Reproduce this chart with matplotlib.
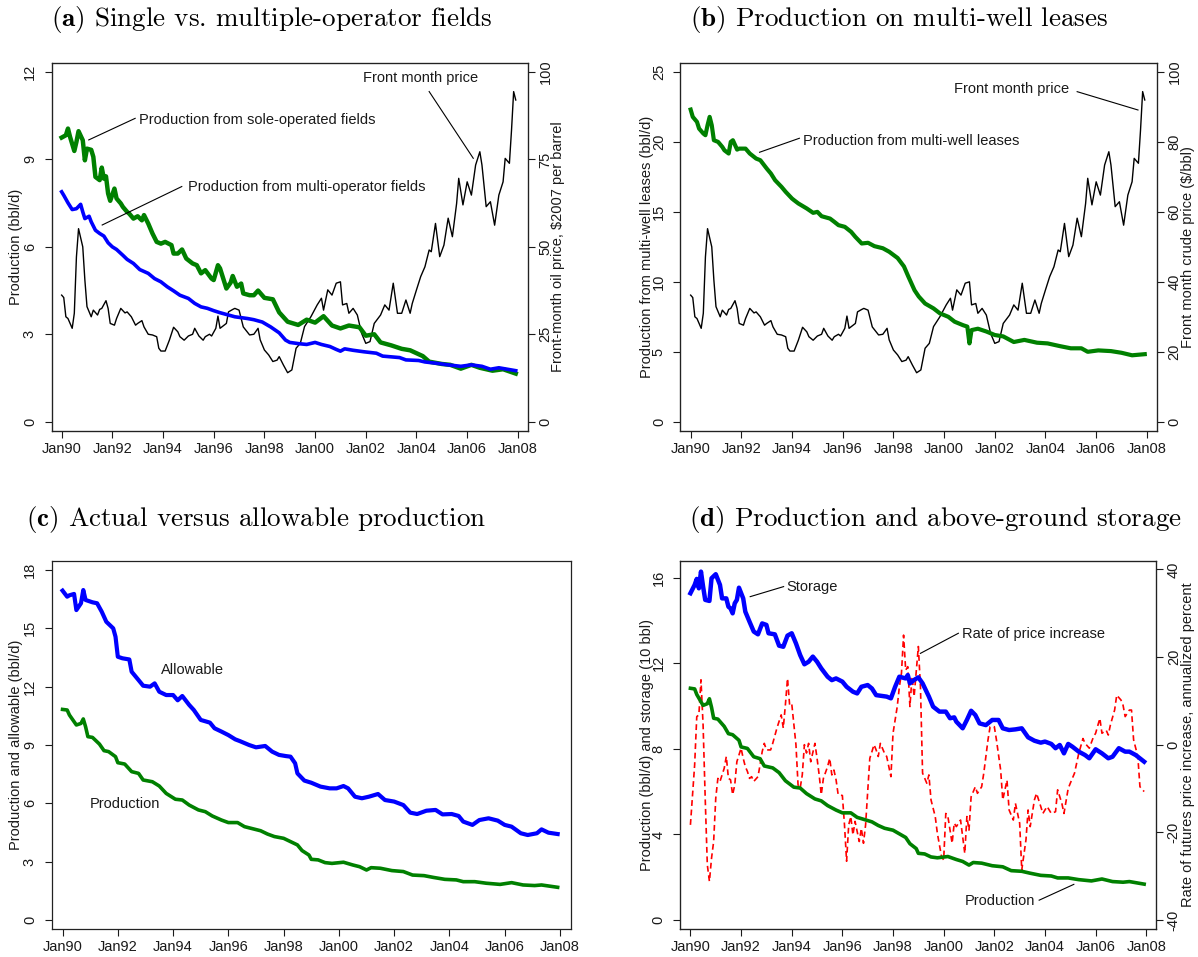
import matplotlib
matplotlib.use("Agg")
import matplotlib.pyplot as plt
import numpy as np

plt.rcParams['font.family'] = ['Liberation Sans', 'DejaVu Sans']
plt.rcParams['mathtext.fontset'] = 'cm'
plt.rcParams['axes.unicode_minus'] = False

# ---------------- data (months counted from Jan 1990) ----------------
price_m = [0, 1, 2, 3, 5, 6, 7, 8, 10, 11, 12, 14, 15, 17, 18, 19, 21, 22, 23, 25, 26, 28, 30, 31,
           33, 35, 36, 38, 39, 41, 43, 45, 46, 47, 49, 51, 53, 55, 56, 58, 60, 62, 63, 65, 67, 68,
           70, 71, 73, 74, 75, 78, 79, 81, 82, 84, 86, 89, 91, 93, 94, 96, 98, 100, 102, 103, 105,
           107, 109, 111, 113, 115, 118, 121, 123, 124, 126, 128, 130, 132, 133, 135, 136, 138, 140,
           142, 144, 146, 148, 151, 153, 155, 157, 159, 161, 163, 165, 166, 168, 170, 172, 174, 175,
           177, 179, 181, 183, 185, 187, 188, 190, 192, 194, 196, 198, 199, 201, 203, 205, 207, 209,
           210, 212, 213, 214, 215]
price_v = [36.2, 35.5, 30.0, 29.5, 26.7, 31.0, 47.1, 55.2, 50.0, 40.5, 32.9, 30.0, 31.9, 30.5, 32.1,
           32.4, 34.6, 32.4, 28.1, 27.6, 29.5, 32.4, 31.1, 31.4, 30.0, 27.6, 28.1, 28.9, 27.1, 25.0,
           24.8, 24.3, 21.0, 20.2, 20.2, 23.3, 27.0, 25.7, 24.3, 23.3, 24.5, 25.0, 26.7, 24.5, 23.3,
           24.3, 25.0, 24.5, 26.7, 30.2, 26.7, 28.1, 31.4, 32.1, 32.4, 31.9, 27.1, 24.8, 25.0, 26.7,
           23.4, 20.5, 19.1, 17.2, 17.6, 18.6, 16.2, 14.0, 14.8, 21.0, 22.4, 27.2, 30.0, 33.4, 35.3,
           31.9, 37.7, 36.2, 39.6, 40.0, 33.4, 33.8, 31.0, 32.4, 30.5, 25.3, 22.4, 22.9, 28.1, 30.5,
           33.4, 31.9, 39.6, 31.0, 31.0, 34.8, 31.0, 33.8, 37.7, 41.5, 44.3, 49.1, 48.6, 56.7, 47.2,
           50.5, 58.2, 52.9, 62.4, 69.6, 62.0, 68.6, 64.8, 73.4, 77.2, 73.4, 61.5, 62.9, 56.2, 64.8,
           68.6, 75.3, 73.9, 83.4, 94.4, 92.0]

sole_m = [0, 2, 3, 4, 6, 7, 8, 10, 11, 12, 14, 15, 16, 18, 19, 20, 21, 22, 23, 25, 26, 28, 29, 31,
          32, 34, 36, 38, 39, 41, 43, 45, 47, 49, 52, 53, 55, 57, 59, 62, 64, 66, 68, 71, 72, 74, 75,
          77, 78, 80, 81, 83, 85, 86, 89, 91, 93, 96, 100, 103, 107, 112, 116, 120, 124, 128, 132,
          136, 141, 144, 148, 151, 156, 161, 165, 171, 174, 180, 184, 189, 194, 198, 204, 209, 215]
sole_v = [9.75, 9.83, 10.06, 9.77, 9.29, 9.6, 9.97, 9.66, 8.97, 9.37, 9.33, 9.09, 8.4, 8.29, 8.72,
          8.34, 8.42, 7.83, 7.58, 8.0, 7.66, 7.49, 7.37, 7.2, 7.14, 6.97, 7.05, 6.91, 7.09, 6.8,
          6.46, 6.17, 6.11, 6.17, 6.06, 5.77, 5.77, 5.91, 5.6, 5.43, 5.37, 5.09, 5.2, 4.91, 4.86,
          5.37, 5.26, 4.8, 4.57, 4.77, 5.0, 4.63, 4.74, 4.4, 4.34, 4.34, 4.5, 4.25, 4.2, 3.75, 3.43,
          3.32, 3.5, 3.4, 3.62, 3.3, 3.2, 3.3, 3.24, 2.95, 3.0, 2.72, 2.62, 2.5, 2.45, 2.25, 2.06,
          1.98, 1.95, 1.82, 1.95, 1.85, 1.75, 1.8, 1.65]

multi_m = [0, 1, 3, 5, 7, 9, 10, 11, 13, 14, 16, 18, 20, 22, 24, 26, 29, 31, 34, 37, 41, 44, 47, 50,
           53, 56, 60, 63, 66, 69, 72, 75, 79, 82, 85, 88, 91, 95, 99, 103, 106, 108, 112, 116, 120,
           123, 127, 130, 132, 134, 138, 143, 149, 152, 160, 163, 169, 172, 178, 183, 189, 194, 199,
           203, 207, 211, 215]
multi_v = [7.89, 7.77, 7.51, 7.28, 7.31, 7.46, 7.2, 6.97, 7.05, 6.86, 6.57, 6.46, 6.37, 6.14, 6.0,
           5.91, 5.71, 5.57, 5.43, 5.22, 5.09, 4.91, 4.8, 4.63, 4.49, 4.34, 4.23, 4.06, 3.94, 3.89,
           3.81, 3.74, 3.66, 3.6, 3.57, 3.54, 3.5, 3.42, 3.25, 3.05, 2.8, 2.72, 2.68, 2.65, 2.72,
           2.65, 2.58, 2.48, 2.42, 2.5, 2.45, 2.4, 2.35, 2.25, 2.2, 2.12, 2.1, 2.05, 2.0, 1.95, 1.9,
           1.95, 1.9, 1.8, 1.85, 1.8, 1.75]

lease_m = [0, 1, 3, 4, 6, 7, 8, 9, 10, 11, 13, 15, 16, 18, 19, 20, 22, 23, 26, 28, 31, 33, 36, 38,
           40, 43, 45, 48, 49, 51, 55, 58, 60, 62, 66, 68, 70, 73, 76, 78, 81, 84, 87, 91, 94, 98,
           101, 103, 106, 108, 111, 115, 118, 122, 125, 129, 131, 132, 133, 136, 140, 144, 148, 153,
           158, 164, 169, 175, 180, 185, 188, 193, 199, 204, 209, 215]
lease_v = [22.31, 21.79, 21.43, 20.95, 20.6, 20.48, 21.19, 21.79, 21.19, 20.12, 20.0, 19.64, 19.4,
           19.17, 20.0, 20.12, 19.45, 19.52, 19.52, 19.17, 18.81, 18.69, 18.1, 17.74, 17.26, 16.79,
           16.43, 15.95, 15.83, 15.6, 15.24, 14.93, 15.0, 14.69, 14.52, 14.29, 14.05, 13.93, 13.57,
           13.21, 12.74, 12.79, 12.55, 12.4, 12.15, 11.7, 11.1, 10.4, 9.4, 8.95, 8.45, 8.1, 7.75, 7.5,
           7.15, 6.9, 6.8, 5.6, 6.55, 6.65, 6.45, 6.2, 6.1, 5.7, 5.85, 5.65, 5.6, 5.4, 5.25, 5.25,
           5.0, 5.1, 5.05, 4.93, 4.75, 4.83]

allow_m = [0, 2, 3, 5, 6, 8, 9, 10, 13, 15, 17, 19, 22, 23, 24, 26, 29, 30, 33, 35, 38, 40, 42, 45,
           48, 50, 52, 55, 57, 60, 64, 66, 69, 72, 75, 77, 81, 84, 88, 91, 94, 97, 99, 101, 102, 105,
           108, 112, 116, 119, 122, 124, 127, 130, 133, 137, 140, 144, 148, 151, 154, 158, 162, 165,
           169, 172, 174, 178, 181, 185, 189, 192, 195, 199, 202, 206, 208, 211, 215]
allow_v = [16.94, 16.63, 16.7, 16.77, 15.94, 16.29, 16.97, 16.46, 16.34, 16.29, 15.86, 15.34, 15.0,
           14.57, 13.54, 13.46, 13.4, 12.77, 12.34, 12.05, 12.0, 12.17, 11.74, 11.57, 11.57, 11.3,
           11.52, 11.06, 10.8, 10.29, 10.15, 9.86, 9.69, 9.51, 9.29, 9.2, 9.0, 8.88, 8.95, 8.66, 8.49,
           8.43, 8.4, 8.06, 7.54, 7.17, 7.06, 6.86, 6.77, 6.77, 6.89, 6.77, 6.34, 6.26, 6.34, 6.48,
           6.17, 6.09, 5.91, 5.52, 5.45, 5.62, 5.66, 5.43, 5.45, 5.35, 5.06, 4.89, 5.14, 5.23, 5.11,
           4.89, 4.8, 4.46, 4.37, 4.46, 4.66, 4.49, 4.42]

prod_m = [0, 2, 3, 6, 8, 9, 10, 11, 13, 16, 18, 20, 23, 24, 27, 30, 33, 35, 39, 42, 45, 49, 52, 55,
          59, 62, 65, 69, 72, 76, 79, 82, 86, 89, 92, 96, 99, 102, 104, 107, 108, 111, 114, 117, 122,
          126, 129, 132, 134, 138, 143, 148, 152, 157, 161, 166, 171, 174, 179, 184, 190, 195, 200,
          205, 208, 215]
prod_v = [10.83, 10.8, 10.54, 10.03, 10.11, 10.34, 9.94, 9.43, 9.39, 9.05, 8.71, 8.66, 8.4, 8.09,
          8.02, 7.63, 7.54, 7.2, 7.11, 6.89, 6.51, 6.21, 6.17, 5.91, 5.66, 5.57, 5.35, 5.14, 5.01,
          5.01, 4.8, 4.71, 4.59, 4.42, 4.29, 4.2, 4.03, 3.86, 3.57, 3.34, 3.12, 3.09, 2.95, 2.91,
          2.97, 2.83, 2.74, 2.57, 2.69, 2.66, 2.54, 2.49, 2.31, 2.28, 2.19, 2.09, 2.06, 1.97, 1.97,
          1.89, 1.83, 1.92, 1.8, 1.77, 1.8, 1.68]

stor_m = [0, 2, 3, 4, 5, 6, 7, 9, 10, 12, 14, 15, 17, 18, 19, 20, 21, 22, 23, 25, 26, 28, 30, 32, 34,
          36, 37, 40, 42, 44, 46, 48, 50, 52, 54, 56, 58, 60, 62, 65, 67, 69, 72, 74, 77, 79, 81, 84,
          86, 88, 93, 95, 97, 99, 102, 103, 104, 106, 108, 110, 113, 115, 118, 121, 123, 125, 126,
          129, 131, 133, 135, 137, 140, 143, 146, 148, 151, 154, 157, 160, 163, 166, 168, 171, 173,
          175, 177, 179, 181, 184, 187, 189, 192, 195, 198, 200, 203, 206, 208, 211, 215]
stor_v = [15.27, 15.66, 15.94, 15.5, 16.28, 15.58, 14.96, 14.91, 15.97, 16.16, 15.66, 15.03, 15.03,
          14.64, 14.56, 14.33, 14.8, 14.96, 15.53, 15.03, 14.41, 13.94, 13.48, 13.35, 13.86, 13.79,
          13.4, 13.35, 12.82, 12.77, 13.29, 13.4, 12.93, 12.38, 11.95, 12.07, 12.31, 12.07, 11.76,
          11.37, 11.21, 11.29, 11.14, 10.9, 10.67, 10.59, 10.9, 10.98, 10.82, 10.51, 10.44, 10.36,
          10.9, 11.37, 11.29, 11.45, 11.06, 11.22, 11.34, 11.06, 10.44, 9.97, 9.74, 9.74, 9.43, 9.47,
          9.27, 8.96, 9.35, 9.78, 9.58, 9.19, 9.11, 9.35, 9.35, 8.96, 8.88, 8.91, 8.96, 8.54, 8.38,
          8.29, 8.34, 8.23, 8.03, 8.18, 7.79, 8.23, 8.1, 7.87, 7.71, 7.56, 7.98, 7.79, 7.56, 7.63,
          8.03, 7.87, 7.87, 7.71, 7.4]

rate_m = [0, 2, 3, 4, 5, 6, 7, 8, 9, 10, 11, 12, 13, 14, 16, 17, 18, 19, 20, 21, 22, 24, 25, 26, 27,
          28, 29, 30, 32, 33, 34, 35, 36, 38, 39, 41, 42, 43, 44, 45, 46, 47, 48, 50, 51, 52, 53, 54,
          55, 56, 57, 59, 60, 61, 62, 63, 65, 66, 67, 68, 69, 70, 72, 73, 74, 75, 76, 77, 78, 80, 81,
          82, 83, 84, 85, 86, 87, 88, 89, 90, 92, 93, 95, 96, 98, 99, 100, 101, 102, 103, 104, 105,
          106, 108, 109, 110, 112, 113, 114, 116, 117, 119, 120, 121, 122, 124, 125, 126, 128, 130,
          131, 132, 133, 135, 136, 138, 139, 141, 142, 144, 145, 147, 148, 150, 151, 153, 154, 156,
          157, 159, 160, 161, 163, 164, 166, 167, 169, 171, 173, 174, 176, 177, 179, 180, 182, 184,
          186, 187, 189, 191, 192, 194, 195, 197, 198, 199, 201, 202, 204, 205, 206, 208, 209, 210,
          212, 213, 215]
rate_v = [-18.3, -4.6, 6.4, 6.8, 14.8, 4.5, -12.2, -27.4, -31.2, -25.9, -22.1, -12.2, -7.7, -8.4,
          -5.4, -2.7, -7.7, -8.0, -11.4, -9.2, -3.9, -0.8, -3.1, -5.0, -6.1, -7.7, -7.3, -8.4, -7.3,
          -4.6, -1.6, 0.3, -1.2, -1.2, 0.3, 3.8, 5.3, 6.8, 3.8, 9.1, 15.1, 9.1, 9.4, 0.0, -9.2,
          -9.9, -6.9, 0.0, -1.9, 0.3, -3.9, 0.3, -3.1, -6.9, -11.4, -7.7, -5.0, -3.1, -6.9, -5.8,
          -8.0, -11.4, -11.6, -18.3, -26.6, -18.3, -16.4, -20.6, -17.5, -22.1, -19.1, -22.5, -18.3,
          -10.7, -3.1, -1.6, 0.0, -1.2, -2.7, 0.3, -2.0, -2.7, -7.3, 2.6, 8.7, 13.2, 16.3, 25.0,
          17.0, 17.8, 8.7, 15.5, 11.0, 22.4, 13.2, -6.5, -8.8, -6.9, -12.6, -16.4, -20.2, -25.6,
          -26.3, -15.7, -16.4, -22.5, -17.9, -18.7, -17.2, -24.8, -16.4, -19.5, -11.9, -9.6, -11.1,
          -9.6, -6.5, 1.1, 4.1, 4.1, 1.1, -5.8, -12.6, -8.1, -14.9, -17.2, -13.4, -17.9, -28.6,
          -21.7, -14.9, -18.7, -12.6, -11.1, -14.1, -15.7, -14.1, -15.7, -15.3, -10.3, -13.4, -15.7,
          -10.0, -8.8, -6.5, -2.0, 1.4, 0.3, -0.8, 1.8, 2.6, 6.0, 2.6, 3.3, 2.2, 4.5, 7.9, 11.3,
          10.2, 9.0, 6.4, 7.9, 7.9, 1.1, -2.7, -9.6, -10.7]

xtick_years = [1990, 1992, 1994, 1996, 1998, 2000, 2002, 2004, 2006, 2008]
xtick_labels = ['Jan90', 'Jan92', 'Jan94', 'Jan96', 'Jan98', 'Jan00', 'Jan02', 'Jan04', 'Jan06', 'Jan08']


def yr(m):
    return 1990 + np.asarray(m, dtype=float) / 12.0


GREEN = '#008000'
BLUE = '#0000ff'
RED = '#ff0000'
TXT = '#1a1a1a'
FS = 10.5

W, H = 1198, 957
fig = plt.figure(figsize=(W / 100, H / 100), dpi=100)


def make_ax(left, right, top, bottom):
    return fig.add_axes([left / W, 1 - bottom / H, (right - left) / W, (bottom - top) / H])


def style_x(ax):
    ax.set_xlim(1989.6, 2008.4)
    ax.set_xticks(xtick_years)
    ax.set_xticklabels(xtick_labels)
    ax.tick_params(axis='x', direction='out', length=5, width=0.8, pad=3,
                   labelsize=FS, colors=TXT)
    for s in ax.spines.values():
        s.set_linewidth(0.9)
        s.set_color('#222222')


def style_y(ax, lim, ticks, side='left', pad=5.5):
    ax.set_ylim(*lim)
    ax.set_yticks(ticks)
    ax.set_yticklabels([str(t) for t in ticks], rotation=90, va='center')
    ax.tick_params(axis='y', direction='out', length=5, width=0.8, pad=pad,
                   labelsize=FS, colors=TXT)


def title(cx, base_y, label, text):
    fig.text(cx / W, 1 - base_y / H, r"$\mathbf{(" + label + ")}$ " + text,
             family='cmr10', fontsize=19.5, ha='center', va='baseline', color='black')


def note(ax, text, xy_text, line):
    ax.text(xy_text[0], xy_text[1], text, fontsize=FS, color=TXT, ha='left', va='center')
    if line is not None:
        ax.plot([line[0], line[2]], [line[1], line[3]], color='black', lw=0.8)


# ---------------- panel (a) ----------------
ax = make_ax(51.5, 528, 62.7, 431)
ax.plot(yr(sole_m), sole_v, color=GREEN, lw=3.2)
ax.plot(yr(multi_m), multi_v, color=BLUE, lw=2.6)
style_x(ax)
style_y(ax, (-0.32, 12.32), [0, 3, 6, 9, 12])
ax.set_ylabel('Production (bbl/d)', fontsize=FS, color=TXT)
ax.yaxis.set_label_coords(-0.0594, 0.5)
note(ax, 'Production from sole-operated fields', (1993.06, 10.35), (1992.9, 10.41, 1991.07, 9.67))
note(ax, 'Production from multi-operator fields', (1994.97, 8.07), (1994.74, 8.07, 1991.6, 6.75))
note(ax, 'Front month price', (2001.88, 11.78), (2004.5, 11.33, 2006.24, 9.04))
ax2 = ax.twinx()
ax2.plot(yr(price_m), price_v, color='black', lw=1.0)
style_y(ax2, (-2.67, 102.67), [0, 25, 50, 75, 100], pad=2.5)
ax2.set_ylabel('Front-month oil price, $2007 per barrel', fontsize=FS, color=TXT)
ax2.yaxis.set_label_coords(1.0483, 0.5)
ax2.set_zorder(ax.get_zorder() - 1)
ax.patch.set_visible(False)
title(271.5, 26, 'a', 'Single vs. multiple-operator fields')

# ---------------- panel (b) ----------------
ax = make_ax(680.5, 1157, 62.7, 431)
ax.plot(yr(lease_m), lease_v, color=GREEN, lw=3.0)
style_x(ax)
style_y(ax, (-0.66, 25.66), [0, 5, 10, 15, 20, 25])
ax.set_ylabel('Production from multi-well leases (bbl/d)', fontsize=FS, color=TXT)
ax.yaxis.set_label_coords(-0.0556, 0.5)
note(ax, 'Production from multi-well leases', (1994.44, 20.09), (1994.29, 20.26, 1992.72, 19.26))
note(ax, 'Front month price', (2000.38, 23.76), (2005.25, 23.59, 2007.65, 22.28))
ax2 = ax.twinx()
ax2.plot(yr(price_m), price_v, color='black', lw=1.0)
style_y(ax2, (-2.66, 102.66), [0, 20, 40, 60, 80, 100], pad=2.5)
ax2.set_ylabel('Front month crude price ($/bbl)', fontsize=FS, color=TXT)
ax2.yaxis.set_label_coords(1.0504, 0.5)
ax2.set_zorder(ax.get_zorder() - 1)
ax.patch.set_visible(False)
title(899.5, 26, 'b', 'Production on multi-well leases')

# ---------------- panel (c) ----------------
ax = make_ax(51.5, 571, 560.7, 929.3)
ax.plot(yr(allow_m), allow_v, color=BLUE, lw=3.0)
ax.plot(yr(prod_m), prod_v, color=GREEN, lw=2.6)
style_x(ax)
style_y(ax, (-0.48, 18.48), [0, 3, 6, 9, 12, 15, 18])
ax.set_ylabel('Production and allowable (bbl/d)', fontsize=FS, color=TXT)
ax.yaxis.set_label_coords(-0.0545, 0.5)
note(ax, 'Allowable', (1993.56, 12.86), None)
note(ax, 'Production', (1990.98, 5.97), None)
title(256.5, 526, 'c', 'Actual versus allowable production')

# ---------------- panel (d) ----------------
ax = make_ax(680.3, 1156.4, 560.7, 929.3)
ax.plot(yr(stor_m), stor_v, color=BLUE, lw=3.2, zorder=3)
ax.plot(yr(prod_m), prod_v, color=GREEN, lw=2.6, zorder=3)
style_x(ax)
style_y(ax, (-0.43, 16.79), [0, 4, 8, 12, 16])
ax.set_ylabel('Production (bbl/d) and storage (10 bbl)', fontsize=FS, color=TXT)
ax.yaxis.set_label_coords(-0.0552, 0.5)
note(ax, 'Storage', (1993.80, 15.55), (1993.68, 15.58, 1992.36, 15.11))
note(ax, 'Rate of price increase', (2000.71, 13.35), (2000.58, 13.40, 1999.08, 12.46))
note(ax, 'Production', (2000.83, 0.89), (2003.77, 0.93, 2005.14, 1.67))
ax2 = ax.twinx()
ax2.plot(yr(rate_m), rate_v, color=RED, lw=1.2, dashes=(3.5, 2.2))
style_y(ax2, (-42.13, 41.98), [-40, -20, 0, 20, 40], pad=2.5)
ax2.set_ylabel('Rate of futures price increase, annualized percent', fontsize=FS, color=TXT)
ax2.yaxis.set_label_coords(1.0517, 0.5)
ax2.set_zorder(ax.get_zorder() - 1)
ax.patch.set_visible(False)
title(935.5, 526, 'd', 'Production and above-ground storage')

fig.savefig('out.png', dpi=100, facecolor='white')
